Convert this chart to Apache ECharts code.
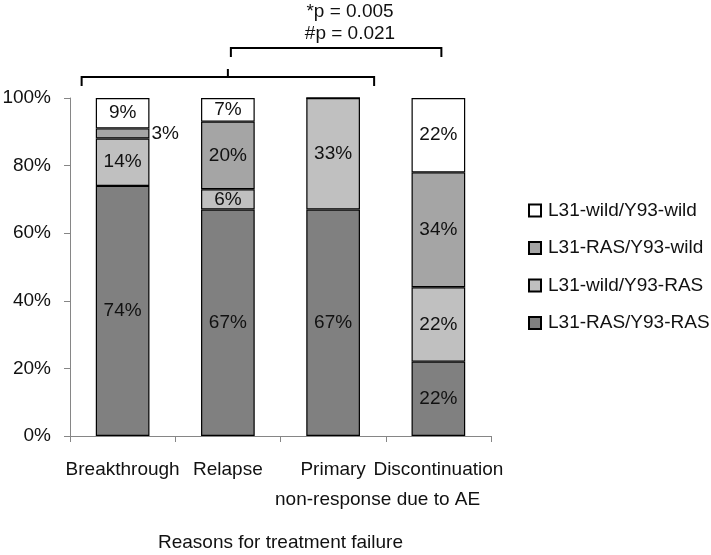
<!DOCTYPE html>
<html><head><meta charset="utf-8">
<script src="https://cdn.jsdelivr.net/npm/echarts@6/dist/echarts.min.js"></script>
<style>html,body{margin:0;padding:0;background:#fff}#c{width:711px;height:555px}</style>
</head><body><div id="c"></div>
<script>
const categories = ['Breakthrough', 'Relapse', 'Primary\nnon-response', 'Discontinuation\ndue to AE'];
const seriesNames = ['L31-RAS/Y93-RAS', 'L31-wild/Y93-RAS', 'L31-RAS/Y93-wild', 'L31-wild/Y93-wild'];
const rasRas = [74, 67, 67, 22];
const wildRas = [14, 6, 33, 22];
const rasWild = [3, 20, 0, 34];
const wildWild = [9, 7, 0, 22];
const yTicks = [0, 20, 40, 60, 80, 100];
const pTexts = ['*p = 0.005', '#p = 0.021'];

const colors = ['#808080', '#c0c0c0', '#a5a5a5', '#ffffff'];
const values = [rasRas, wildRas, rasWild, wildWild];
const FONT = 'Liberation Sans, Arial, sans-serif';
const FS = 19;
const TXT = '#111';

const chart = echarts.init(document.getElementById('c'), null, {renderer: 'canvas'});

const series = values.map((vals, si) => ({
  name: seriesNames[si],
  type: 'bar',
  stack: 'total',
  barWidth: '51%',
  itemStyle: {color: colors[si], borderColor: '#000', borderWidth: 1.2},
  label: {show: true, position: 'inside', fontSize: FS, fontFamily: FONT, color: TXT,
          formatter: p => p.value + '%'},
  data: vals.map((v, ci) => {
    if (v === 0) return {value: v, label: {show: false}};
    if (si === 2 && ci === 0) return {value: v, label: {position: 'right', distance: 2}};
    return v;
  })
}));

chart.setOption({
  animation: false,
  textStyle: {fontFamily: FONT},
  grid: {left: 70, right: 220, top: 98, bottom: 119, containLabel: false, outerBoundsMode: 'none'},
  legend: {
    orient: 'vertical', left: 523, top: 195,
    data: seriesNames.slice().reverse(),
    icon: 'rect', itemWidth: 12, itemHeight: 12, itemGap: 16.5,
    textStyle: {fontSize: FS, fontFamily: FONT, color: TXT, padding: [0, 0, 0, 2], lineHeight: 21},
    selectedMode: false
  },
  xAxis: {
    type: 'category', data: categories,
    name: 'Reasons for treatment failure', nameLocation: 'middle', nameGap: 97,
    nameTextStyle: {fontSize: FS, fontFamily: FONT, color: TXT},
    axisLine: {lineStyle: {color: '#868686', width: 1}},
    axisTick: {show: true, length: 6, lineStyle: {color: '#868686'}},
    axisLabel: {fontSize: FS, fontFamily: FONT, color: TXT, margin: 19, lineHeight: 30, interval: 0}
  },
  yAxis: {
    type: 'value', min: 0, max: 100, interval: 20,
    axisLine: {show: true, lineStyle: {color: '#868686', width: 1}},
    axisTick: {show: true, length: 6, lineStyle: {color: '#868686'}},
    splitLine: {show: false},
    axisLabel: {fontSize: FS, fontFamily: FONT, color: TXT, margin: 19,
                formatter: v => (yTicks.indexOf(v) >= 0 ? v + '%' : '')}
  },
  series: series
});

// significance brackets (annotation), anchored to category positions
const cx = i => chart.convertToPixel({xAxisIndex: 0}, i);
const lowL = cx(0) - 41, lowR = cx(2) + 41, mid = (lowL + lowR) / 2;
const upL = mid + 3, upR = cx(3) + 3;
const ls = {stroke: '#000', lineWidth: 2, fill: null};
chart.setOption({
  graphic: [
    {type: 'polyline', shape: {points: [[lowL, 86], [lowL, 77], [lowR, 77], [lowR, 86]]}, style: ls},
    {type: 'polyline', shape: {points: [[mid, 77], [mid, 69]]}, style: ls},
    {type: 'polyline', shape: {points: [[upL, 57], [upL, 48], [upR, 48], [upR, 57]]}, style: ls},
    {type: 'text', x: 350, y: 12, style: {text: pTexts[0], font: FS + 'px ' + FONT, fill: TXT, textAlign: 'center', textVerticalAlign: 'middle'}},
    {type: 'text', x: 350, y: 34, style: {text: pTexts[1], font: FS + 'px ' + FONT, fill: TXT, textAlign: 'center', textVerticalAlign: 'middle'}}
  ]
});
</script></body></html>
